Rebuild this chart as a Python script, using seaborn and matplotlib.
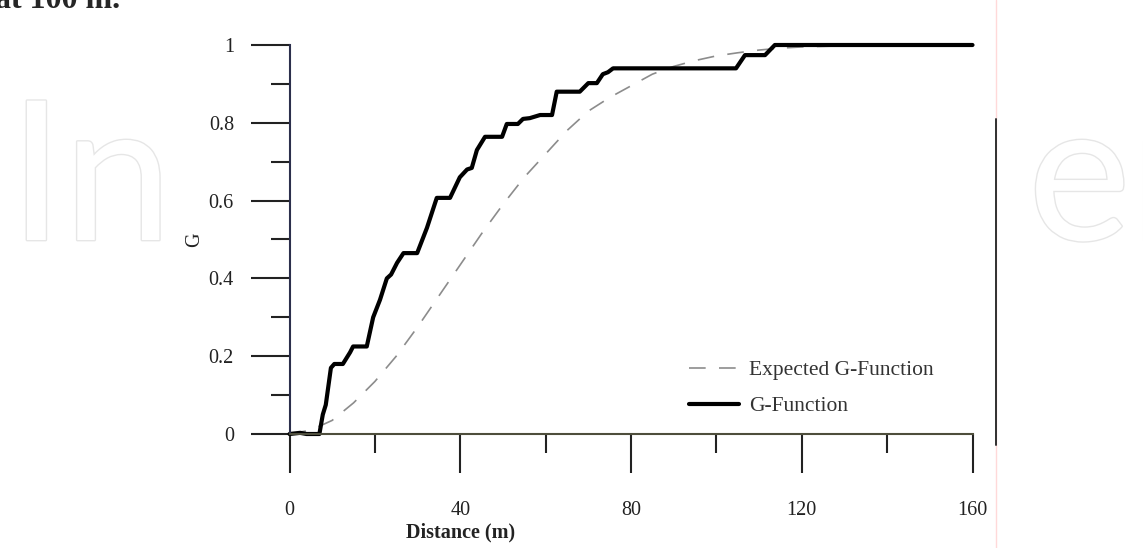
import matplotlib
matplotlib.use("Agg")
import matplotlib.pyplot as plt
import matplotlib.patheffects as pe
from matplotlib.patches import Rectangle
from matplotlib.lines import Line2D
from matplotlib.ticker import MultipleLocator
import seaborn as sns

g_dist = [0, 2.5, 4, 7, 7.8, 8.5, 9.7, 10.5, 12.5, 14.2, 14.9, 18.1, 19.6, 21.2,
          22.8, 23.8, 25.2, 26.7, 29.9, 32.2, 34.5, 37.6, 39.9, 41.6, 42.7, 43.9,
          45.8, 49.8, 50.9, 53.5, 54.7, 56.3, 58.7, 61.5, 62.6, 68, 70, 72, 73.4,
          74.6, 75.8, 104.6, 106.7, 111.4, 113.7, 160]
g_val = [0, 0.003, 0, 0, 0.05, 0.075, 0.17, 0.18, 0.18, 0.21, 0.225, 0.225, 0.30,
         0.345, 0.40, 0.41, 0.44, 0.465, 0.465, 0.53, 0.607, 0.607, 0.66, 0.68,
         0.684, 0.73, 0.764, 0.764, 0.797, 0.797, 0.81, 0.812, 0.82, 0.82, 0.88,
         0.88, 0.902, 0.902, 0.925, 0.93, 0.94, 0.94, 0.974, 0.974, 1.0, 1.0]

# expected G-function
e_dist = [0, 5, 10, 15, 20, 25, 30, 35, 40, 45, 50, 55, 60, 65, 70, 75, 80, 85,
          90, 95, 100, 105, 110, 115, 120, 130, 140, 150, 160]
e_val = [0, 0.01, 0.035, 0.08, 0.135, 0.2, 0.275, 0.355, 0.435, 0.515, 0.59, 0.66,
         0.72, 0.78, 0.83, 0.865, 0.895, 0.925, 0.945, 0.96, 0.972, 0.98, 0.987,
         0.992, 0.995, 0.998, 1.0, 1.0, 1.0]

x_ticks = [0, 40, 80, 120, 160]
y_ticks = [0, 0.2, 0.4, 0.6, 0.8, 1]
y_tick_labels = ["0", "0.2", "0.4", "0.6", "0.8", "1"]

sns.set_style("white")
plt.rcParams["font.family"] = ["Liberation Serif", "DejaVu Serif"]

fig = plt.figure(figsize=(11.43, 5.48), dpi=100)

# page background bits: watermark, caption text, side rule
wm = dict(fontsize=140, family="Lato", color="white", zorder=-3,
          path_effects=[pe.withStroke(linewidth=2, foreground="#e6e6e6")])
fig.text(0.008, 1 - 240 / 548, "In", ha="left", va="baseline", **wm)
fig.text(1028 / 1143, 1 - 240 / 548, "en", ha="left", va="baseline", **wm)
fig.patches.append(Rectangle((180 / 1143, 0), (996 - 180) / 1143, 0.975,
                             transform=fig.transFigure, facecolor="white",
                             edgecolor="none", zorder=-2))
fig.text(-0.004, 1 - 8 / 548, "at 100 m.", ha="left", va="baseline",
         fontsize=23, fontweight="bold", zorder=2)
fig.lines.append(Line2D([996 / 1143] * 2, [0, 1], transform=fig.transFigure,
                        color="#ffd9d9", lw=1, zorder=-1))
fig.lines.append(Line2D([996 / 1143] * 2, [1 - 445 / 548, 1 - 119 / 548],
                        transform=fig.transFigure, color="#303030", lw=1.4, zorder=1))

ax = fig.add_axes([289.5 / 1143, 114 / 548, 683 / 1143, 389 / 548])
ax.set_facecolor("none")

sns.lineplot(x=e_dist, y=e_val, ax=ax, sort=False, estimator=None,
             color="#8c8c8c", lw=1.2, dashes=False, label="Expected G-Function")
sns.lineplot(x=g_dist, y=g_val, ax=ax, sort=False, estimator=None,
             color="black", lw=3, label="G-Function")
ax.lines[0].set_dashes((10, 8))
for ln in ax.lines:
    ln.set_clip_on(False)
ax.lines[1].set_solid_capstyle("round")
ax.lines[1].set_solid_joinstyle("round")

ax.set_xlim(0, 160)
ax.set_ylim(0, 1)
sns.despine(ax=ax)
ax.spines["left"].set_color("#2c2f4c")
ax.spines["bottom"].set_color("#4e4e3c")
ax.spines["left"].set_linewidth(1.5)
ax.spines["bottom"].set_linewidth(1.5)

ax.set_xticks(x_ticks)
ax.set_yticks(y_ticks)
ax.set_yticklabels(y_tick_labels)
ax.xaxis.set_minor_locator(MultipleLocator(20))
ax.yaxis.set_minor_locator(MultipleLocator(0.1))
ax.tick_params(which="both", bottom=True, left=True, top=False, right=False)
ax.tick_params(axis="both", which="major", direction="out", width=1.5,
               color="#222222", labelsize=14.5, labelcolor="#222222")
ax.tick_params(axis="x", which="major", length=28, pad=20)
ax.tick_params(axis="y", which="major", length=28, pad=12)
ax.tick_params(axis="both", which="minor", direction="out", width=1.5,
               length=14, color="#222222")

ax.set_xlabel("Distance (m)", fontsize=14.5, fontweight="bold", color="#222222")
ax.xaxis.set_label_coords(0.25, -0.228)
ax.set_ylabel("G", fontsize=14.5, color="#222222")
ax.yaxis.set_label_coords(-0.125, 0.5)

leg = ax.legend(loc="lower left", bbox_to_anchor=(0.585, 0.045), frameon=False,
                fontsize=15.5, handlelength=2.3, handletextpad=0.5,
                labelspacing=0.75, borderpad=0, borderaxespad=0)
for t in leg.get_texts():
    t.set_color("#333333")

fig.savefig("out.png", dpi=100)
